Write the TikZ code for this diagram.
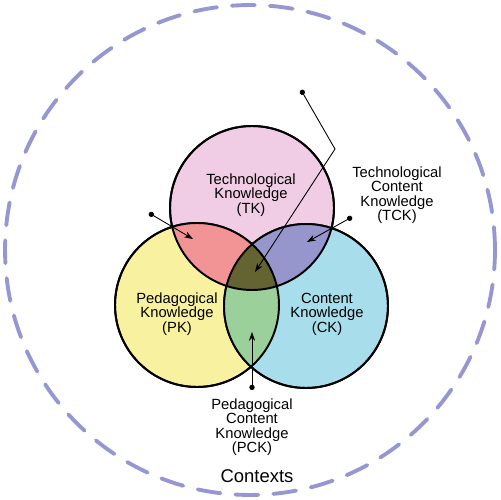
\documentclass[tikz,border=0pt]{standalone}
\usepackage{fontspec}
\setmainfont{Liberation Sans}
\usepackage{tikz}
\usetikzlibrary{arrows.meta}
\definecolor{tkpink}{RGB}{240,205,228}
\definecolor{pkyellow}{RGB}{248,242,160}
\definecolor{ckblue}{RGB}{168,222,236}
\definecolor{tpsalmon}{RGB}{242,148,150}
\definecolor{tcpurple}{RGB}{150,150,204}
\definecolor{pcgreen}{RGB}{155,208,155}
\definecolor{allolive}{RGB}{100,100,50}
\definecolor{ctxlav}{RGB}{150,150,210}
\tikzset{
    venn/.style={circle, draw=black, line width=1.1pt, minimum size=3.28cm, inner sep=0pt},
    label text/.style={font=\fontsize{8.4}{8.2}\selectfont, align=center, text=black},
    pointer/.style={line width=0.5pt, {Circle[length=3pt]}-{Stealth[length=5pt,width=3.5pt]}},
    contextring/.style={draw=ctxlav, line width=2.2pt, dash pattern=on 0.46cm off 0.3cm, line cap=round}
}
\def\rad{1.64cm}
\begin{document}
\begin{tikzpicture}[x=0.02cm, y=-0.02cm]
    \useasboundingbox (0,0) rectangle (500,500);

    % contexts ring
    \node[circle, minimum size=9.8cm, inner sep=0pt] (ctx) at (250,250) {};
    \draw[contextring] (ctx.center) circle (4.9cm);

    % the three knowledge circles
    \node[venn, fill=tkpink] (tk) at (252,208) {};
    \node[venn, fill=pkyellow] (pk) at (197,305) {};
    \node[venn, fill=ckblue] (ck) at (306,306) {};

    % overlaps
    \begin{scope}
        \clip (tk.center) circle (\rad);
        \fill[tpsalmon] (pk.center) circle (\rad);
        \fill[tcpurple] (ck.center) circle (\rad);
    \end{scope}
    \begin{scope}
        \clip (pk.center) circle (\rad);
        \fill[pcgreen] (ck.center) circle (\rad);
        \clip (ck.center) circle (\rad);
        \fill[allolive] (tk.center) circle (\rad);
    \end{scope}
    \draw[line width=1.1pt] (tk.center) circle (\rad);
    \draw[line width=1.1pt] (pk.center) circle (\rad);
    \draw[line width=1.1pt] (ck.center) circle (\rad);

    % labels
    \node[label text] (tkl) at (251,195) {Technological\\Knowledge\\(TK)};
    \node[label text] (pkl) at (177,314) {Pedagogical\\Knowledge\\(PK)};
    \node[label text] (ckl) at (327,314) {Content\\Knowledge\\(CK)};
    \node[label text] (tckl) at (397,195) {Technological\\Content\\Knowledge\\(TCK)};
    \node[label text] (pckl) at (252,427) {Pedagogical\\Content\\Knowledge\\(PCK)};
    \node[font=\fontsize{10.5}{12}\selectfont] (ctxl) at (257,476) {Contexts};

    % pointers
    \coordinate (tpdot) at (149,213);
    \coordinate (tptip) at (193,239);
    \coordinate (tcdot) at (352,217);
    \coordinate (tctip) at (307,242);
    \coordinate (tpckdot) at (301,90);
    \coordinate (tpckbend) at (335,149);
    \coordinate (tpcktip) at (255,272);
    \coordinate (pcdot) at (252,390);
    \coordinate (pctip) at (252,332);

    \draw[pointer] (tpdot) -- (tptip);
    \draw[pointer] (tcdot) -- (tctip);
    \draw[pointer] (tpckdot) -- (tpckbend) -- (tpcktip);
    \draw[pointer] (pcdot) -- (pctip);
\end{tikzpicture}
\end{document}
